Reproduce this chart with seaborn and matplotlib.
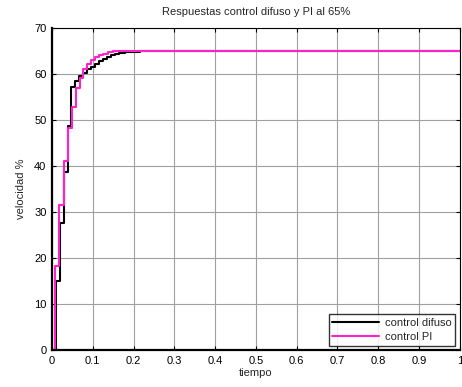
import matplotlib
matplotlib.use("Agg")
import matplotlib.pyplot as plt
import seaborn as sns
import pandas as pd

t_difuso = [0.0, 0.010, 0.019, 0.029, 0.039, 0.047, 0.057, 0.066, 0.076, 0.085, 0.095,
            0.105, 0.115, 0.125, 0.135, 0.145, 0.155, 0.165, 0.180, 0.195, 0.215, 1.0]
v_difuso = [0.0, 15.0, 27.5, 38.7, 48.7, 57.2, 58.5, 59.6, 60.3, 61.0, 61.6,
            62.2, 62.7, 63.2, 63.6, 64.0, 64.3, 64.5, 64.7, 64.85, 65.0, 65.0]

t_pi = [0.0, 0.007, 0.018, 0.029, 0.039, 0.050, 0.060, 0.069, 0.076, 0.085, 0.095,
        0.105, 0.115, 0.125, 0.138, 0.150, 0.165, 1.0]
v_pi = [0.0, 18.3, 31.5, 41.0, 48.2, 52.8, 56.9, 59.0, 61.0, 62.2, 63.0,
        63.6, 64.0, 64.4, 64.7, 64.9, 65.0, 65.0]

x_ticks = [0, 0.1, 0.2, 0.3, 0.4, 0.5, 0.6, 0.7, 0.8, 0.9, 1]
y_ticks = [0, 10, 20, 30, 40, 50, 60, 70]

sns.set_style("white")
plt.rcParams['font.family'] = ['Liberation Sans', 'DejaVu Sans']

fig = plt.figure(figsize=(4.62, 3.87), dpi=100)
ax = fig.add_axes([0.1126, 0.0956, 0.8826, 0.8324])

df1 = pd.DataFrame({"t": t_difuso, "v": v_difuso})
df2 = pd.DataFrame({"t": t_pi, "v": v_pi})
sns.lineplot(data=df1, x="t", y="v", ax=ax, color="black", linewidth=1.5,
             drawstyle="steps-post", label="control difuso")
sns.lineplot(data=df2, x="t", y="v", ax=ax, color="#ff22cc", linewidth=1.5,
             drawstyle="steps-post", label="control PI")

ax.set_xlim(0, 1)
ax.set_ylim(0, 70)
ax.set_xticks(x_ticks)
ax.set_xticklabels([f"{v:g}" for v in x_ticks])
ax.set_yticks(y_ticks)
ax.grid(True, color="#a0a0a0", linewidth=0.8)
ax.tick_params(direction="in", length=3, labelsize=8, colors="black", pad=4,
               top=True, right=True, bottom=True, left=True)
for side in ["left", "bottom"]:
    ax.spines[side].set_linewidth(1.6)
for side in ["top", "right"]:
    ax.spines[side].set_linewidth(0.8)
for s in ax.spines.values():
    s.set_color("black")
ax.set_xlabel("tiempo", fontsize=8, labelpad=2)
ax.set_ylabel("velocidad %", fontsize=8, labelpad=6)
ax.set_title("Respuestas control difuso y PI al 65%", fontsize=8, pad=9)

leg = ax.legend(loc="lower right", fontsize=8, frameon=True, fancybox=False,
                edgecolor="black", borderaxespad=0.4, handlelength=4.2,
                handletextpad=0.5, borderpad=0.35, labelspacing=0.35)
leg.get_frame().set_linewidth(1.0)

fig.savefig("out.png", dpi=100)
